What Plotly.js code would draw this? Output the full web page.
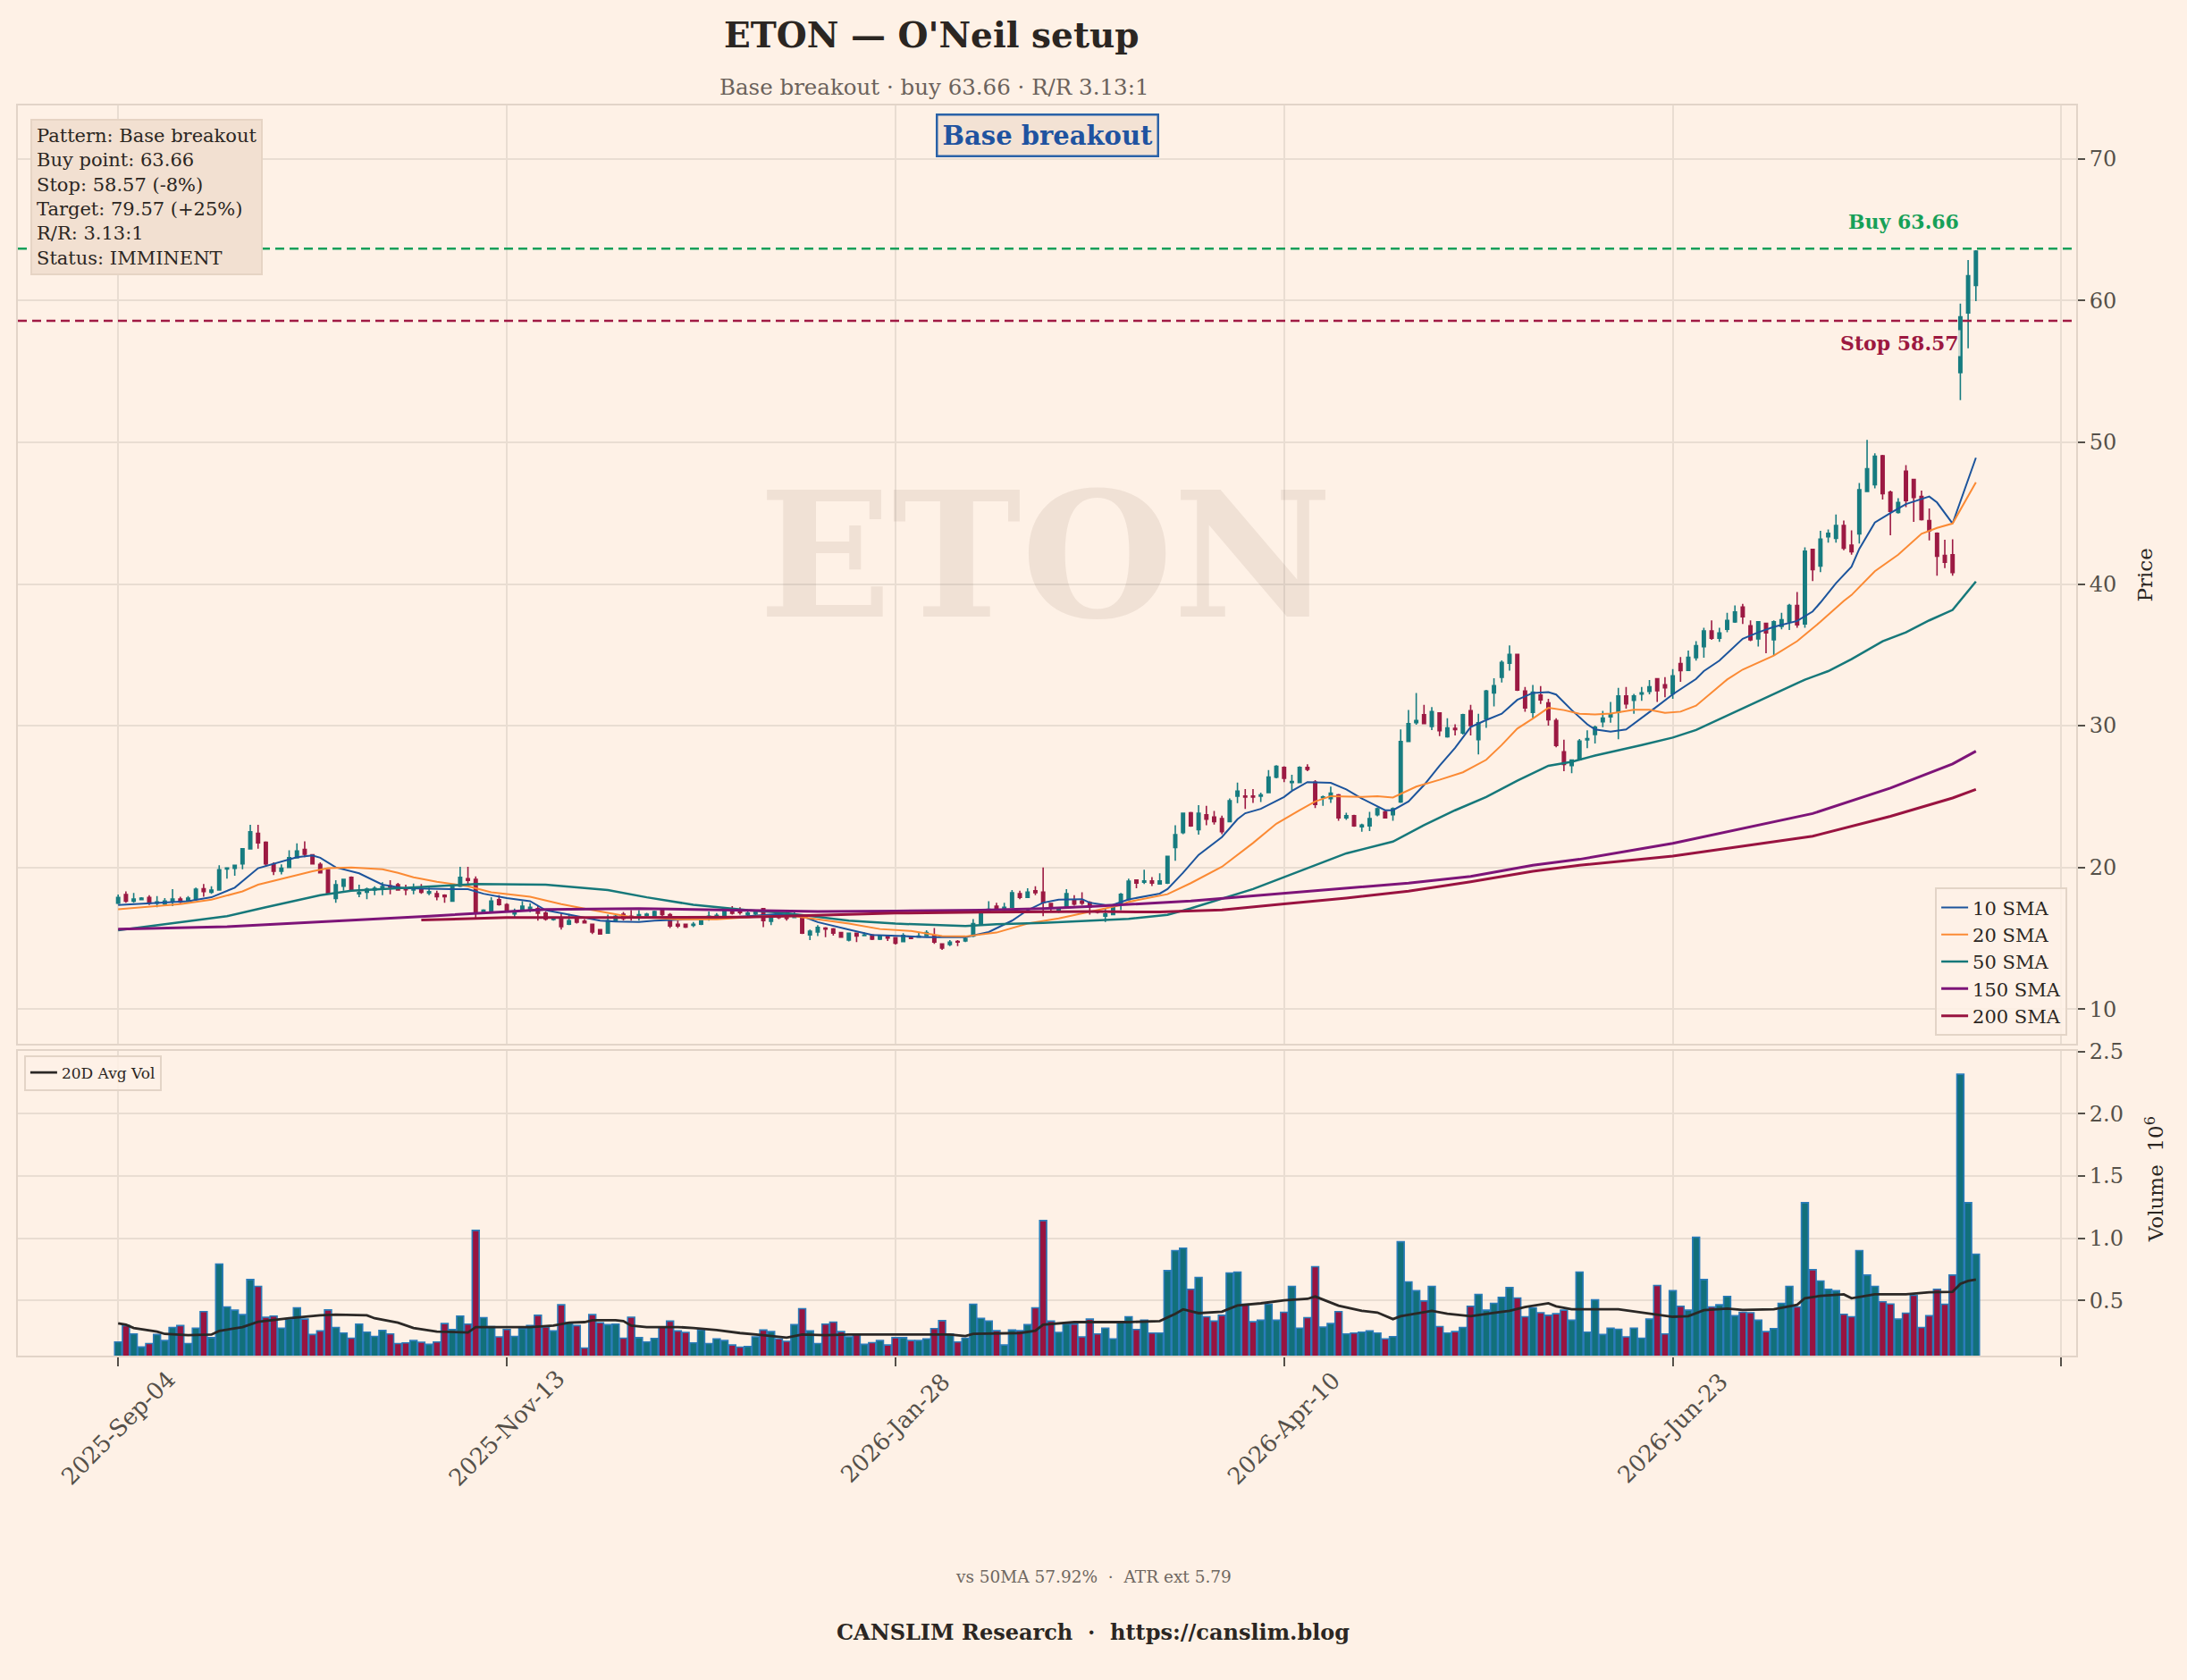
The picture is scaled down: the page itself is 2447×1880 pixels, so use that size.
<!DOCTYPE html>
<html>
<head>
<meta charset="utf-8">
<script src="https://cdn.plot.ly/plotly-3.0.1.min.js"></script>
<style>html,body{margin:0;padding:0;background:#fef1e6;}#chart{width:2447px;height:1880px;}</style>
</head>
<body>
<div id="chart"></div>
<script>
// ---- tick labels (trading-day index positions) ----
const tickIdx = [0, 50, 100, 150, 200, 250];
const tickLabels = ['2025-Sep-04', '2025-Nov-13', '2026-Jan-28', '2026-Apr-10', '2026-Jun-23'];

// ---- OHLC ----
const openP = [
17.47,18.08,17.62,17.72,17.87,17.47,17.41,17.57,17.76,17.62,17.76,18.50,18.25,18.40,19.89,19.94,20.25,21.31,22.41,21.77,
20.21,19.73,20.00,20.68,21.27,20.89,20.21,19.83,17.81,18.67,19.30,18.14,18.25,18.40,18.52,18.69,18.78,18.52,18.40,18.44,
18.19,18.14,18.04,17.62,18.67,19.20,19.16,16.88,16.92,17.72,17.38,16.71,17.05,17.05,17.09,16.77,16.33,16.35,15.99,16.41,
16.20,15.99,15.61,15.36,16.24,16.70,16.56,16.50,16.60,16.56,17.05,16.67,15.99,15.99,15.91,15.99,16.46,16.50,16.62,17.03,
16.92,16.67,16.71,17.09,16.20,16.56,16.52,16.46,16.41,15.23,15.44,15.72,15.65,15.40,14.87,15.36,15.19,15.23,14.94,15.15,
15.04,14.77,15.08,15.08,15.19,15.19,14.60,14.56,14.77,14.81,15.15,16.03,16.92,17.26,16.98,17.19,18.14,17.89,18.35,18.25,
17.45,16.88,17.19,17.72,17.62,17.51,16.92,16.56,16.67,17.41,17.72,19.10,18.95,19.04,18.83,18.89,21.40,22.45,23.86,22.66,
23.71,23.56,23.44,23.23,25.03,25.03,25.03,25.03,25.28,26.37,27.06,25.99,25.99,27.06,26.02,24.91,24.86,25.12,23.50,23.65,
22.87,22.93,23.71,23.92,23.71,24.61,28.89,30.21,30.78,29.94,30.90,29.22,29.81,29.48,31.05,29.01,30.48,32.31,33.42,34.40,
35.03,32.45,30.94,32.16,31.61,30.36,28.16,27.18,27.60,29.00,29.37,30.27,30.63,30.95,32.10,31.79,32.23,32.42,33.31,32.88,
32.25,34.38,33.90,34.80,35.58,36.69,36.17,36.80,37.33,38.38,37.05,36.13,37.22,36.06,37.01,37.33,38.48,37.18,42.44,41.26,
43.33,43.22,44.13,42.74,43.54,46.53,47.01,49.05,46.48,45.05,47.96,47.37,46.17,44.48,43.58,42.02,42.06,54.91,59.12,61.07];
const highP = [
18.08,18.31,18.19,17.89,18.04,17.97,17.83,18.46,17.93,17.97,18.57,18.82,18.67,20.15,20.00,20.20,21.35,23.00,23.00,21.84,
20.36,20.21,21.20,21.69,21.84,20.93,20.36,19.85,19.09,19.20,19.37,18.78,18.57,18.67,18.95,19.09,18.90,18.78,18.86,18.82,
18.57,18.35,18.10,18.78,20.04,20.04,19.37,17.05,17.89,18.04,17.47,17.09,17.62,17.47,17.26,16.88,16.50,16.77,16.71,16.50,
16.35,16.03,15.65,16.67,16.70,16.85,16.98,16.98,16.80,16.95,17.13,16.77,16.24,16.03,16.14,16.29,16.88,16.77,17.19,17.26,
17.19,16.88,16.92,17.13,16.56,16.67,16.88,16.92,16.46,15.61,15.93,15.78,15.72,15.44,15.40,15.40,15.40,15.30,15.19,15.19,
15.08,15.36,15.19,15.40,15.57,15.72,14.64,14.87,14.87,15.19,16.35,16.88,17.62,17.51,17.51,18.40,18.35,18.52,18.67,20.00,
17.51,17.13,18.46,18.04,18.25,17.62,17.00,17.09,17.41,18.19,19.20,19.16,19.83,19.31,19.58,20.80,22.98,23.86,23.92,24.40,
24.34,23.98,23.65,24.86,25.99,25.53,25.53,25.28,26.86,27.21,27.13,26.54,27.13,27.27,26.16,25.07,25.70,25.18,23.86,23.71,
23.08,23.92,24.23,24.03,24.23,29.73,31.11,32.31,31.47,31.32,30.94,30.52,30.10,30.84,31.47,30.84,32.52,33.35,34.61,35.66,
35.05,32.73,32.87,32.79,31.89,30.52,29.01,27.63,29.06,29.68,30.00,31.05,31.68,32.67,32.73,32.25,32.74,33.22,33.31,33.43,
34.00,34.85,35.30,35.96,36.91,37.43,36.91,37.96,38.48,38.59,37.43,37.35,37.26,37.43,37.96,38.59,39.43,42.59,42.48,43.75,
43.85,44.91,44.48,43.79,47.12,50.17,49.22,49.12,46.59,46.06,48.38,47.43,46.59,45.33,43.64,43.12,43.16,59.79,62.86,63.55];
const lowP = [
17.41,17.51,17.51,17.68,17.34,17.19,17.26,17.26,17.47,17.55,17.72,17.93,18.14,18.35,19.20,19.41,19.87,21.27,21.31,20.04,
19.45,19.51,19.95,20.63,20.72,20.21,19.58,18.12,17.51,18.35,18.35,17.89,17.76,18.04,18.04,18.10,18.35,18.04,18.10,18.14,
18.04,17.68,17.51,17.60,18.61,18.78,16.35,16.79,16.88,17.30,16.92,16.50,16.98,16.84,16.24,16.24,16.24,15.61,15.93,16.03,
16.03,15.30,15.25,15.34,16.20,16.25,16.24,16.24,16.50,16.50,16.56,15.72,15.72,15.72,15.78,15.93,16.24,16.35,16.46,16.67,
16.67,16.56,16.62,15.78,15.93,16.35,16.24,16.41,15.30,14.87,15.15,15.08,15.19,15.02,14.77,14.73,15.17,14.87,14.87,14.81,
14.56,14.73,14.94,15.02,15.15,14.60,14.18,14.45,14.45,14.73,15.08,15.93,16.88,16.98,16.92,17.13,17.76,17.83,18.04,16.56,
16.88,16.80,17.09,17.30,17.34,16.67,16.75,16.14,16.62,16.98,17.68,18.53,18.83,18.68,18.78,18.83,20.46,22.35,22.87,22.31,
22.98,23.02,22.35,23.19,24.53,24.13,24.55,24.61,25.24,26.29,26.02,25.45,25.95,26.79,24.19,24.34,24.55,23.29,23.35,22.87,
22.52,22.56,23.61,23.44,23.29,24.55,28.85,30.06,30.10,29.69,29.27,29.16,29.31,29.37,29.31,27.97,29.85,31.36,33.04,33.88,
32.45,30.99,30.52,31.53,30.00,28.47,26.79,26.64,27.55,28.42,28.74,29.89,30.21,29.05,31.20,30.84,31.75,32.21,31.68,32.00,
31.89,33.10,33.85,34.59,34.80,36.06,35.92,36.59,37.26,37.18,35.96,35.58,35.12,34.95,36.80,36.76,36.91,36.91,40.21,40.84,
42.91,42.91,42.38,42.06,42.86,46.48,46.74,45.96,43.43,44.97,45.43,44.38,44.48,43.07,40.59,41.12,40.59,52.97,56.63,59.96];
const closeP = [
17.87,17.62,17.76,17.83,17.47,17.57,17.62,17.76,17.55,17.83,18.46,18.29,18.40,19.83,19.96,20.15,21.31,22.51,21.73,20.25,
19.73,19.94,20.68,21.16,20.93,20.25,19.62,18.14,18.78,19.16,18.40,18.23,18.46,18.52,18.65,18.63,18.40,18.42,18.57,18.25,
18.29,17.93,17.93,18.78,19.30,19.09,16.84,16.98,17.62,17.38,16.98,16.92,17.26,17.19,16.77,16.35,16.41,15.82,16.24,16.14,
16.08,15.44,15.30,16.24,16.56,16.40,16.46,16.67,16.70,16.88,16.67,15.86,15.86,15.78,15.99,16.24,16.56,16.62,16.98,16.77,
16.81,16.77,16.84,16.24,16.46,16.46,16.41,16.67,15.36,15.49,15.76,15.65,15.36,15.08,15.36,15.15,15.23,14.94,15.13,15.02,
14.66,15.19,14.98,15.15,15.40,14.73,14.30,14.73,14.73,14.98,16.03,16.71,17.05,17.09,17.19,18.21,17.89,18.25,18.21,17.51,
17.19,17.05,18.14,17.41,17.47,17.19,16.84,16.71,17.34,18.10,19.03,18.89,19.04,18.89,19.04,20.78,22.31,23.82,22.93,23.82,
23.40,23.23,22.52,24.70,25.39,24.97,24.97,25.12,26.37,27.13,26.29,26.06,27.06,26.92,24.44,24.97,25.24,23.50,23.65,22.93,
22.98,23.44,24.13,23.50,24.13,28.89,30.15,30.36,30.15,30.99,29.64,29.85,29.73,30.78,30.00,30.21,32.45,32.83,34.47,35.03,
32.52,31.26,32.37,31.82,30.42,28.60,27.27,27.58,28.92,29.09,29.89,30.53,30.84,32.10,31.54,32.10,32.32,32.74,32.46,32.67,
33.52,33.89,34.82,35.64,36.69,36.17,36.55,37.43,38.02,37.68,36.06,37.33,36.55,37.33,37.47,38.48,37.12,42.32,41.01,43.16,
43.58,44.13,42.53,42.27,46.65,48.13,49.01,46.38,45.12,45.75,45.89,46.11,44.55,43.75,41.96,41.54,40.80,58.86,61.75,63.49];

// ---- volume, millions ----
const volume = [
0.165,0.297,0.230,0.125,0.153,0.225,0.177,0.282,0.297,0.153,0.277,0.409,0.200,0.792,0.447,0.421,0.385,0.667,0.612,0.364,
0.373,0.277,0.349,0.440,0.349,0.225,0.254,0.423,0.282,0.237,0.196,0.309,0.244,0.210,0.258,0.230,0.153,0.158,0.177,0.163,
0.146,0.165,0.313,0.266,0.373,0.309,1.062,0.361,0.289,0.206,0.266,0.210,0.273,0.297,0.380,0.285,0.254,0.464,0.320,0.297,
0.117,0.385,0.320,0.304,0.309,0.196,0.364,0.200,0.165,0.194,0.285,0.333,0.254,0.242,0.158,0.261,0.153,0.190,0.177,0.141,
0.124,0.129,0.206,0.261,0.249,0.190,0.170,0.304,0.433,0.254,0.153,0.309,0.325,0.249,0.206,0.225,0.146,0.160,0.177,0.141,
0.200,0.200,0.177,0.177,0.190,0.273,0.337,0.230,0.165,0.196,0.469,0.356,0.333,0.256,0.141,0.261,0.256,0.304,0.440,1.141,
0.333,0.242,0.309,0.309,0.206,0.349,0.230,0.277,0.190,0.320,0.368,0.266,0.340,0.237,0.237,0.739,0.900,0.919,0.589,0.684,
0.368,0.333,0.380,0.720,0.727,0.469,0.328,0.340,0.469,0.340,0.404,0.612,0.277,0.361,0.770,0.285,0.313,0.409,0.230,0.237,
0.244,0.254,0.237,0.190,0.208,0.971,0.648,0.577,0.495,0.612,0.289,0.237,0.249,0.282,0.452,0.548,0.421,0.476,0.524,0.603,
0.519,0.368,0.440,0.400,0.380,0.392,0.421,0.340,0.727,0.244,0.505,0.225,0.277,0.268,0.206,0.277,0.196,0.349,0.620,0.230,
0.577,0.452,0.421,1.007,0.667,0.447,0.464,0.531,0.376,0.404,0.400,0.340,0.249,0.273,0.476,0.612,0.447,1.285,0.746,0.656,
0.589,0.577,0.388,0.368,0.900,0.703,0.612,0.488,0.471,0.349,0.397,0.541,0.282,0.376,0.589,0.469,0.703,2.318,1.285,0.871];

// ---- 20-day average volume, read at these bar indices ----
const avgVolIdx = [0,1,2,5,6,9,12,13,16,18,22,26,28,32,33,36,38,41,45,46,48,53,56,58,60,61,64,65,66,68,72,74,77,80,83,86,88,91,94,99,
  102,105,107,109,110,116,118,119,121,123,126,130,134,136,137,139,142,144,147,150,153,154,157,160,162,164,165,168,169,171,174,177,179,181,184,185,187,193,196,198,
  200,202,204,207,209,213,216,217,219,222,223,226,230,233,235,236,237,238,239];
const avgVol = [0.316,0.304,0.278,0.249,0.230,0.220,0.225,0.254,0.285,0.328,0.356,0.380,0.385,0.380,0.356,0.320,0.278,0.249,0.242,0.285,0.285,0.285,0.297,0.320,0.325,0.340,0.340,0.333,0.297,0.285,0.285,0.278,0.261,0.237,0.220,0.200,0.225,0.220,0.225,0.225,
  0.225,0.225,0.225,0.213,0.230,0.237,0.256,0.304,0.316,0.325,0.325,0.325,0.333,0.392,0.428,0.397,0.409,0.459,0.476,0.500,0.512,0.531,0.457,0.416,0.402,0.349,0.373,0.404,0.416,0.392,0.373,0.400,0.416,0.447,0.476,0.452,0.428,0.428,0.400,0.385,
  0.368,0.373,0.421,0.433,0.423,0.428,0.464,0.517,0.536,0.548,0.517,0.548,0.548,0.565,0.565,0.569,0.632,0.656,0.667];

// ---- moving averages, read at these bar indices ----
const sma10Idx = [0,5,9,12,15,18,21,23,25,26,28,31,34,37,43,45,47,50,53,55,58,62,64,67,69,72,76,81,85,88,90,94,97,101,104,109,112,115,117,119,
  121,124,125,127,128,130,134,135,137,139,142,144,145,147,150,151,153,156,158,160,163,164,166,168,170,172,174,176,178,180,182,184,185,187,189,190,192,194,196,198,
  200,203,204,206,209,211,213,216,218,219,221,223,224,226,228,230,233,234,236,239];
const sma10 = [17.34,17.47,17.62,17.89,18.57,19.94,20.42,20.72,20.84,20.68,20.00,19.58,18.78,18.52,18.46,18.46,18.14,17.83,17.62,16.98,16.67,16.24,16.18,16.14,16.24,16.29,16.39,16.56,16.71,16.56,16.14,15.61,15.23,15.15,15.08,15.08,15.44,16.24,16.98,17.51,
  17.72,17.76,17.51,17.34,17.36,17.74,18.15,18.47,19.62,20.88,22.14,23.40,23.82,24.13,24.97,25.39,26.02,25.97,25.50,24.86,24.03,24.03,24.65,25.81,27.17,28.43,29.90,30.40,30.84,31.82,32.31,32.37,32.20,31.10,30.10,29.73,29.58,29.73,30.53,31.37,
  32.21,33.30,33.85,34.59,36.13,36.59,36.97,37.39,38.06,38.69,40.06,41.22,42.48,44.34,45.01,45.64,46.17,45.75,44.27,48.91];
const sma20Idx = [0,8,12,16,18,22,25,27,30,34,36,38,41,45,48,53,57,60,64,66,68,72,77,81,83,87,90,94,98,102,106,109,113,117,121,126,129,130,135,138,
  142,146,149,152,154,156,160,162,164,167,170,173,176,178,180,182,184,186,188,190,192,195,197,199,201,203,207,209,213,216,219,222,223,226,229,232,234,236,239];
const sma20 = [17.05,17.41,17.72,18.31,18.78,19.30,19.73,19.94,20.00,19.87,19.62,19.30,18.99,18.67,18.25,17.93,17.41,17.09,16.67,16.50,16.46,16.33,16.33,16.46,16.56,16.56,16.35,16.03,15.65,15.51,15.15,15.13,15.40,16.03,16.40,17.00,17.34,17.57,18.11,18.89,
  20.04,21.72,23.08,24.03,24.65,25.03,24.97,25.03,24.93,25.70,26.18,26.71,27.59,28.64,29.79,30.50,31.26,31.10,30.84,30.80,30.85,31.12,31.12,30.91,30.99,31.41,33.26,33.96,34.95,35.96,37.33,38.80,39.22,40.90,42.06,43.54,43.96,44.27,47.18];
const sma50Idx = [0,14,19,26,30,40,46,55,63,68,74,81,86,94,100,109,113,119,126,130,135,138,146,154,158,164,168,172,176,180,184,187,190,196,200,203,210,217,220,223,227,230,233,236,239];
const sma50 = [15.57,16.56,17.19,18.04,18.35,18.67,18.82,18.78,18.40,17.89,17.36,16.98,16.77,16.24,16.03,15.86,15.99,16.08,16.25,16.37,16.65,17.11,18.47,20.15,20.99,21.82,22.98,24.03,24.97,26.12,27.17,27.45,27.89,28.63,29.16,29.70,31.50,33.25,33.85,34.69,35.96,36.59,37.43,38.17,40.17];
const sma150Idx = [0,14,40,55,67,81,90,100,111,119,126,138,150,166,174,182,188,200,218,228,236,239];
const sma150 = [15.65,15.82,16.56,17.03,17.09,16.98,16.88,16.92,16.98,17.09,17.27,17.63,18.15,18.89,19.37,20.15,20.57,21.70,23.80,25.60,27.30,28.20];
const sma200Idx = [39,50,64,81,90,100,111,126,134,142,150,158,166,174,182,188,200,218,228,236,239];
const sma200 = [16.29,16.46,16.46,16.50,16.62,16.77,16.84,16.88,16.85,17.00,17.42,17.84,18.32,18.99,19.73,20.15,20.80,22.20,23.60,24.90,25.50];

// ---- setup levels ----
const buyPoint = 63.66;
const stopPrice = 58.57;
const infoLines = ['Pattern: Base breakout', 'Buy point: 63.66', 'Stop: 58.57 (-8%)', 'Target: 79.57 (+25%)', 'R/R: 3.13:1', 'Status: IMMINENT'];

// ---- styling ----
const FONT = "Georgia, 'DejaVu Serif', serif";
const BG = '#fef1e6';
const GRID = '#e9ddd2';
const SPINE = '#e2d4c8';
const UP = '#177c80';
const DOWN = '#9c1a43';
const TXT = '#2b2622';
const TICK = '#555049';

const idx = openP.map((_, i) => i);
const volColors = closeP.map((c, i) => c >= openP[i] ? '#12707b' : '#981440');

const traces = [
  {type: 'candlestick', x: idx, open: openP, high: highP, low: lowP, close: closeP,
   xaxis: 'x', yaxis: 'y', showlegend: false, hoverinfo: 'skip', whiskerwidth: 0,
   increasing: {line: {color: UP, width: 1.6}, fillcolor: UP},
   decreasing: {line: {color: DOWN, width: 1.6}, fillcolor: DOWN}},
  {type: 'scatter', mode: 'lines', name: '10 SMA', x: sma10Idx, y: sma10, xaxis: 'x', yaxis: 'y', line: {color: '#1c549c', width: 2}, legend: 'legend'},
  {type: 'scatter', mode: 'lines', name: '20 SMA', x: sma20Idx, y: sma20, xaxis: 'x', yaxis: 'y', line: {color: '#fb8a34', width: 2}, legend: 'legend'},
  {type: 'scatter', mode: 'lines', name: '50 SMA', x: sma50Idx, y: sma50, xaxis: 'x', yaxis: 'y', line: {color: '#16787a', width: 2.5}, legend: 'legend'},
  {type: 'scatter', mode: 'lines', name: '150 SMA', x: sma150Idx, y: sma150, xaxis: 'x', yaxis: 'y', line: {color: '#7d1478', width: 3}, legend: 'legend'},
  {type: 'scatter', mode: 'lines', name: '200 SMA', x: sma200Idx, y: sma200, xaxis: 'x', yaxis: 'y', line: {color: '#991340', width: 3}, legend: 'legend'},
  {type: 'bar', x: idx, y: volume, xaxis: 'x2', yaxis: 'y2', showlegend: false, hoverinfo: 'skip',
   marker: {color: volColors, line: {color: '#2b7cba', width: 1.6}}},
  {type: 'scatter', mode: 'lines', name: '20D Avg Vol', x: avgVolIdx, y: avgVol, xaxis: 'x2', yaxis: 'y2',
   line: {color: '#2b2826', width: 2.8}, legend: 'legend2'}
];

const xr = [-12.9, 251.9];
const commonX = {range: xr, tickvals: tickIdx, showticklabels: false, showgrid: true, gridcolor: GRID, gridwidth: 2, zeroline: false,
  showline: true, mirror: true, linecolor: SPINE, linewidth: 2};

const annotations = [
  {text: '<b>ETON</b>', xref: 'paper', yref: 'paper', x: 0.4993, y: 0.640, xanchor: 'center', yanchor: 'middle',
   showarrow: false, font: {size: 195, color: 'rgba(130,100,80,0.11)', family: FONT}},
  {text: "<b>ETON — O'Neil setup</b>", xref: 'paper', yref: 'paper', x: 0.4442, y: 1.0564, xanchor: 'center', yanchor: 'middle',
   showarrow: false, font: {size: 39, color: TXT, family: FONT}},
  {text: 'Base breakout · buy 63.66 · R/R 3.13:1', xref: 'paper', yref: 'paper', x: 0.4451, y: 1.0143, xanchor: 'center', yanchor: 'middle',
   showarrow: false, font: {size: 24.5, color: '#6b625b', family: FONT}},
  {text: infoLines.join('<br>'), xref: 'paper', yref: 'paper', x: 0.0061, y: 0.9893, xanchor: 'left', yanchor: 'top', align: 'left',
   showarrow: false, bgcolor: '#f2e0d1', bordercolor: '#e6d4c4', borderwidth: 2, borderpad: 5,
   font: {size: 21, color: TXT, family: FONT}},
  {text: '<b>Base breakout</b>', xref: 'paper', yref: 'paper', x: 0.5002, y: 0.9757, xanchor: 'center', yanchor: 'middle',
   showarrow: false, bgcolor: '#f3e2d4', bordercolor: '#2a62a8', borderwidth: 2.5, borderpad: 5,
   font: {size: 29, color: '#1f53a0', family: FONT}},
  {text: '<b>Buy 63.66</b>', xref: 'paper', yref: 'y', x: 0.944, y: 65.56, xanchor: 'right', yanchor: 'middle',
   showarrow: false, font: {size: 22, color: '#16a058', family: FONT}},
  {text: '<b>Stop 58.57</b>', xref: 'paper', yref: 'y', x: 0.944, y: 56.97, xanchor: 'right', yanchor: 'middle',
   showarrow: false, bgcolor: 'rgba(254,241,230,0.8)', font: {size: 22, color: '#9c1840', family: FONT}},
  {text: 'Price', xref: 'paper', yref: 'paper', x: 1.0334, y: 0.6243, xanchor: 'center', yanchor: 'middle', textangle: -90,
   showarrow: false, font: {size: 23, color: TXT, family: FONT}},
  {text: 'Volume  10<sup>6</sup>', xref: 'paper', yref: 'paper', x: 1.0382, y: 0.1414, xanchor: 'center', yanchor: 'middle', textangle: -90,
   showarrow: false, font: {size: 23, color: TXT, family: FONT}},
  {text: 'vs 50MA 57.92%  ·  ATR ext 5.79', xref: 'paper', yref: 'paper', x: 0.5224, y: -0.1771, xanchor: 'center', yanchor: 'middle',
   showarrow: false, font: {size: 18.5, color: '#6f6760', family: FONT}},
  {text: '<b>CANSLIM Research  ·  https://canslim.blog</b>', xref: 'paper', yref: 'paper', x: 0.5224, y: -0.2214, xanchor: 'center', yanchor: 'middle',
   showarrow: false, font: {size: 24, color: TXT, family: FONT}}
];
// rotated date labels, centred under their ticks
tickLabels.forEach((lab, k) => {
  annotations.push({text: lab, xref: 'x2', yref: 'paper', x: tickIdx[k], y: -0.0579, xanchor: 'center', yanchor: 'middle',
    textangle: -45, showarrow: false, font: {size: 26, color: TICK, family: FONT}});
});

const layout = {
  width: 2447, height: 1880,
  paper_bgcolor: BG, plot_bgcolor: BG,
  font: {family: FONT, color: TXT},
  margin: {l: 20, r: 124, t: 118, b: 363, pad: 0},
  showlegend: true,
  boxgap: 0.45,
  bargap: 0.1,
  xaxis: Object.assign({}, commonX, {anchor: 'y', domain: [0, 1], ticks: '', rangeslider: {visible: false}}),
  xaxis2: Object.assign({}, commonX, {anchor: 'y2', domain: [0, 1], ticks: 'outside', ticklen: 10, tickwidth: 2, tickcolor: TICK}),
  yaxis: {domain: [0.2493, 1], range: [7.54, 73.77], side: 'right', tickvals: [10, 20, 30, 40, 50, 60, 70],
    ticks: 'outside', ticklen: 8, tickwidth: 2, tickcolor: TICK, tickfont: {size: 24, color: TICK, family: FONT},
    showgrid: true, gridcolor: GRID, gridwidth: 2, zeroline: false, showline: true, mirror: true, linecolor: SPINE, linewidth: 2},
  yaxis2: {domain: [0, 0.2436], range: [0.0556, 2.504], side: 'right', tickvals: [0.5, 1, 1.5, 2, 2.5],
    ticktext: ['0.5', '1.0', '1.5', '2.0', '2.5'],
    ticks: 'outside', ticklen: 8, tickwidth: 2, tickcolor: TICK, tickfont: {size: 24, color: TICK, family: FONT},
    showgrid: true, gridcolor: GRID, gridwidth: 2, zeroline: false, showline: true, mirror: true, linecolor: SPINE, linewidth: 2},
  legend: {x: 0.9957, xanchor: 'right', y: 0.2557, yanchor: 'bottom', bgcolor: 'rgba(254,241,230,0.85)',
    bordercolor: '#e3d4c7', borderwidth: 2, font: {size: 21, color: TXT, family: FONT}, tracegroupgap: 0},
  legend2: {x: 0.003, xanchor: 'left', y: 0.2405, yanchor: 'top', bgcolor: 'rgba(254,241,230,0.85)',
    bordercolor: '#e3d4c7', borderwidth: 2, font: {size: 17, color: TXT, family: FONT}},
  shapes: [
    {type: 'line', xref: 'paper', x0: 0, x1: 1, yref: 'y', y0: buyPoint, y1: buyPoint, line: {color: '#17a05a', width: 2.6, dash: '10px,6px'}},
    {type: 'line', xref: 'paper', x0: 0, x1: 1, yref: 'y', y0: stopPrice, y1: stopPrice, line: {color: '#a01a44', width: 2.6, dash: '10px,6px'}}
  ],
  annotations: annotations
};

Plotly.newPlot('chart', traces, layout, {staticPlot: true, displayModeBar: false});
</script>
</body>
</html>
